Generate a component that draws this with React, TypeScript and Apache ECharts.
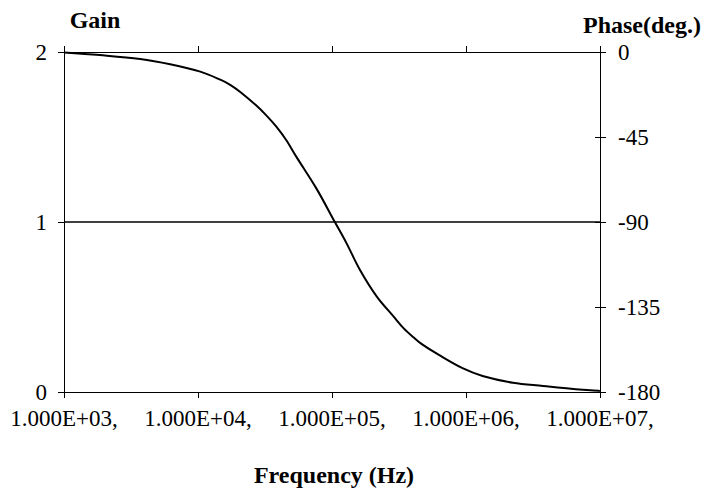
import React, { useEffect, useRef } from "react";
import * as echarts from "echarts";

// Frequency (Hz) of each sampled point of the phase curve
const freqHz = [
  1000, 1850, 3700, 6200, 10400, 14800, 17500, 20900, 27000, 32200, 38300,
  45500, 54100, 76400, 105000, 128500, 161800, 216000, 288600, 343000,
  408000, 471000, 628000, 942000, 1330000, 2240000, 3760000, 6320000, 9750000,
  10000000,
];
// Phase (deg.)
const phaseDeg = [
  -0.2, -1.6, -3.7, -6.5, -10.4, -14.8, -17.5, -21.4, -28.1, -33.4, -39.4,
  -46.6, -55.4, -72.2, -90.0, -101.3, -115.4, -129.5, -140.1, -146.3, -151.2,
  -154.8, -160.4, -167.4, -171.5, -175.1, -176.8, -178.4, -179.3, -179.5,
];
// Gain (constant)
const gainFreq = [1000, 10000000];
const gainValues = [1, 1];

const xTickLabels = ["1.000E+03,", "1.000E+04,", "1.000E+05,", "1.000E+06,", "1.000E+07,"];
const gainTicks = ["0", "1", "2"];
const phaseTicks = ["-180", "-135", "-90", "-45", "0"];

const FONT = '"Liberation Serif", "Times New Roman", serif';

export default function App() {
  const ref = useRef<HTMLDivElement>(null);
  useEffect(() => {
    if (!ref.current) return;
    const chart = echarts.init(ref.current, null, { renderer: "svg" });
    const axisLine = { show: true, lineStyle: { color: "#000", width: 1 } };
    const xBase = {
      type: "log" as const,
      logBase: 10,
      min: 1000,
      max: 10000000,
      splitLine: { show: false },
      minorTick: { show: false },
    };
    chart.setOption({
      animation: false,
      backgroundColor: "#fff",
      grid: { left: 64, right: 103, top: 52, bottom: 97, containLabel: false },
      xAxis: [
        {
          ...xBase,
          position: "bottom",
          axisLine,
          axisTick: { show: true, inside: false, length: 6, lineStyle: { color: "#000" } },
          axisLabel: {
            margin: 15,
            color: "#000",
            fontFamily: FONT,
            fontSize: 23,
            formatter: (v: number) => xTickLabels[Math.round(Math.log10(v)) - 3] ?? "",
          },
        },
        {
          ...xBase,
          position: "bottom",
          axisLine: { show: false },
          axisTick: { show: true, inside: true, length: 6, lineStyle: { color: "#000" } },
          axisLabel: { show: false },
        },
        {
          ...xBase,
          position: "top",
          axisLine,
          axisTick: { show: false },
          axisLabel: { show: false },
        },
      ],
      yAxis: [
        {
          type: "value",
          position: "left",
          min: 0,
          max: 2,
          interval: 1,
          axisLine,
          splitLine: { show: false },
          axisTick: { show: true, inside: false, length: 6, lineStyle: { color: "#000" } },
          axisLabel: {
            margin: 17,
            color: "#000",
            fontFamily: FONT,
            fontSize: 23,
            formatter: (v: number) => gainTicks[Math.round(v)] ?? "",
          },
        },
        {
          type: "value",
          position: "right",
          min: -180,
          max: 0,
          interval: 45,
          axisLine,
          splitLine: { show: false },
          axisTick: { show: true, inside: false, length: 6, lineStyle: { color: "#000" } },
          axisLabel: {
            margin: 18,
            color: "#000",
            fontFamily: FONT,
            fontSize: 23,
            formatter: (v: number) => phaseTicks[Math.round((v + 180) / 45)] ?? "",
          },
        },
        {
          type: "value",
          position: "right",
          min: -180,
          max: 0,
          interval: 45,
          axisLine: { show: false },
          splitLine: { show: false },
          axisTick: { show: true, inside: true, length: 5, lineStyle: { color: "#000" } },
          axisLabel: { show: false },
        },
      ],
      series: [
        {
          type: "line",
          name: "Gain",
          xAxisIndex: 0,
          yAxisIndex: 0,
          data: gainFreq.map((f, i) => [f, gainValues[i]]),
          showSymbol: false,
          lineStyle: { color: "#000", width: 1.5 },
        },
        {
          type: "line",
          name: "Phase",
          xAxisIndex: 0,
          yAxisIndex: 1,
          smooth: 0.35,
          data: freqHz.map((f, i) => [f, phaseDeg[i]]),
          showSymbol: false,
          lineStyle: { color: "#000", width: 2 },
        },
      ],
      graphic: [
        {
          type: "text",
          x: 95,
          y: 20,
          style: {
            text: "Gain",
            fill: "#000",
            font: `bold 24px ${FONT}`,
            textAlign: "center",
            textVerticalAlign: "middle",
          },
        },
        {
          type: "text",
          x: 642,
          y: 25,
          style: {
            text: "Phase(deg.)",
            fill: "#000",
            font: `bold 24px ${FONT}`,
            textAlign: "center",
            textVerticalAlign: "middle",
          },
        },
        {
          type: "text",
          x: 334,
          y: 475,
          style: {
            text: "Frequency (Hz)",
            fill: "#000",
            font: `bold 24px ${FONT}`,
            textAlign: "center",
            textVerticalAlign: "middle",
          },
        },
      ],
    });
    return () => chart.dispose();
  }, []);
  return <div ref={ref} style={{ width: 703, height: 489, position: "absolute", left: 0, top: 0 }} />;
}
